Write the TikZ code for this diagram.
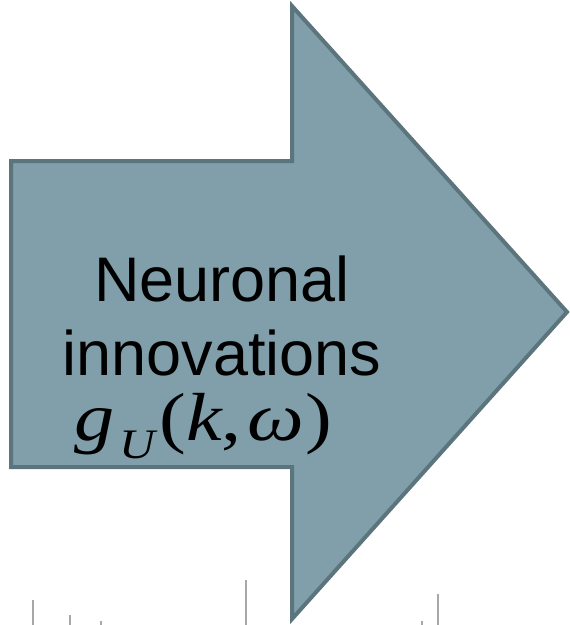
\documentclass[tikz,border=0pt]{standalone}
\usepackage{fontspec}
\setmainfont{Liberation Sans}
\newfontfamily\mathserif{Liberation Serif}
\definecolor{arrowfill}{HTML}{809FAA}
\definecolor{arrowedge}{HTML}{5C757D}
\definecolor{tickgray}{HTML}{A8A8A8}
\begin{document}
\begin{tikzpicture}[x=1pt,y=-1pt,
  bigarrow/.style={fill=arrowfill,draw=arrowedge,line width=4pt,line join=miter},
  label/.style={font=\fontsize{63}{74}\selectfont,align=center,inner sep=0pt},
  tickmark/.style={draw=tickgray,line width=1.5pt}]
\useasboundingbox (0,0) rectangle (570,625);
\draw[bigarrow] (11,161) -- (292,161) -- (292,6) -- (567,312) -- (292,619) -- (292,467) -- (11,467) -- cycle;
\node[label,anchor=base] (l1) at (222,301) {Neuronal};
\node[label,anchor=base] (l2) at (222,375) {innovations};
\node[inner sep=0pt,anchor=base west] (eq) at (74,440) {\scalebox{1.18}[1]{\mathserif\fontsize{68}{68}\selectfont\itshape g\hspace{4pt}\raisebox{-18pt}{\fontsize{42}{42}\selectfont U}\hspace{4pt}\upshape(\itshape k\upshape,\hspace{5pt}\itshape ω\hspace{1pt}\upshape)}};
\coordinate (t1a) at (33,600); \coordinate (t1b) at (33,625);
\coordinate (t2a) at (70,615); \coordinate (t2b) at (70,625);
\coordinate (t3a) at (101,621); \coordinate (t3b) at (101,625);
\coordinate (t4a) at (246,580); \coordinate (t4b) at (246,625);
\coordinate (t5a) at (422,621); \coordinate (t5b) at (422,625);
\coordinate (t6a) at (438,594); \coordinate (t6b) at (438,625);
\draw[tickmark] (t1a) -- (t1b);
\draw[tickmark] (t2a) -- (t2b);
\draw[tickmark] (t3a) -- (t3b);
\draw[tickmark] (t4a) -- (t4b);
\draw[tickmark] (t5a) -- (t5b);
\draw[tickmark] (t6a) -- (t6b);
\end{tikzpicture}
\end{document}
